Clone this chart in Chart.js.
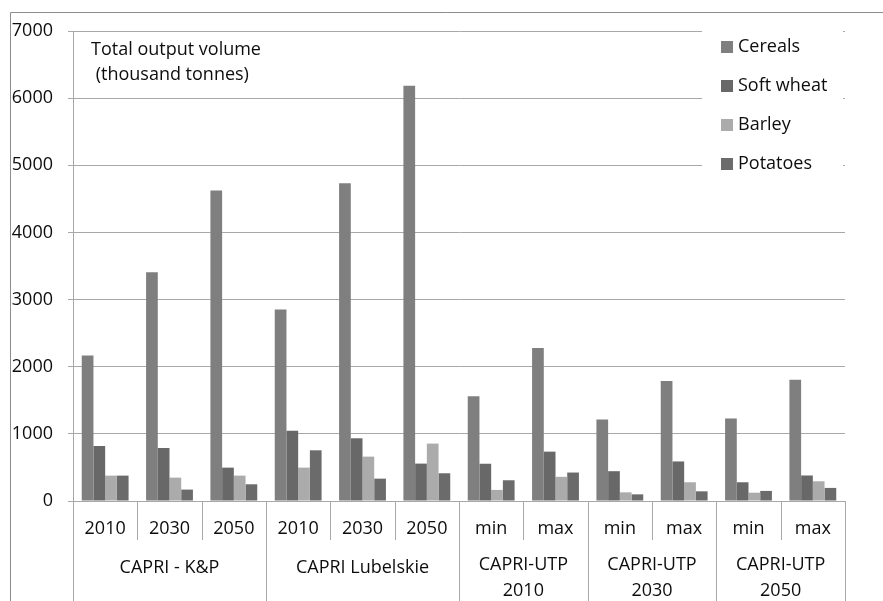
<!DOCTYPE html>
<html>
<head>
<meta charset="utf-8">
<script src="https://cdn.jsdelivr.net/npm/chart.js@4.4.1/dist/chart.umd.min.js"></script>
<style>
  html, body { margin: 0; padding: 0; background: #fff; }
</style>
</head>
<body>
<canvas id="chart" width="883" height="601"></canvas>
<script>
// categories
const subLabels = ['2010', '2030', '2050', '2010', '2030', '2050', 'min', 'max', 'min', 'max', 'min', 'max'];
const groupNames = [['CAPRI - K&P'], ['CAPRI Lubelskie'], ['CAPRI-UTP', '2010'], ['CAPRI-UTP', '2030'], ['CAPRI-UTP', '2050']];
const groupSizes = [3, 3, 2, 2, 2];

// series (thousand tonnes)
const seriesNames = ['Cereals', 'Soft wheat', 'Barley', 'Potatoes'];
const cereals   = [2168, 3407, 4626, 2851, 4734, 6186, 1559, 2279, 1214, 1789, 1229, 1804];
const softWheat = [819, 789, 497, 1048, 934, 557, 555, 735, 444, 589, 279, 380];
const barley    = [378, 348, 378, 497, 661, 855, 165, 360, 129, 279, 124, 294];
const potatoes  = [378, 170, 249, 755, 333, 413, 309, 424, 99, 144, 150, 195];

// y axis
const yMin = 0;
const yMax = 7000;
const yStep = 1000;

const noteLines = ['Total output volume', ' (thousand tonnes)'];

const FONT = '"Open Sans", sans-serif';
const FONT_SIZE = 18;
const colors = ['#7f7f7f', '#686868', '#ababab', '#6b6b6b'];
const gridColor = '#a8a8a8';
const textColor = '#0d0d0d';

const decor = {
    id: 'decor',
    beforeDraw(chart) {
        const ctx = chart.ctx;
        ctx.save();
        ctx.fillStyle = '#fff';
        ctx.fillRect(0, 0, chart.width, chart.height);
        // outer frame (top and left edges visible)
        ctx.strokeStyle = '#8c8c8c';
        ctx.lineWidth = 1;
        ctx.beginPath();
        ctx.moveTo(10.5, chart.height);
        ctx.lineTo(10.5, 12.5);
        ctx.lineTo(chart.width, 12.5);
        ctx.stroke();
        ctx.restore();
    },
    afterDraw(chart) {
        const { ctx, chartArea } = chart;
        const x = chart.scales.x;
        ctx.save();

        // category separators
        const groupEdges = new Set([0]);
        let acc = 0;
        groupSizes.forEach(n => { acc += n; groupEdges.add(acc); });
        ctx.strokeStyle = gridColor;
        ctx.lineWidth = 1;
        for (let i = 0; i <= subLabels.length; i++) {
            const px = Math.round(x.getPixelForValue(i - 0.5)) + 0.5;
            ctx.beginPath();
            ctx.moveTo(px, chartArea.bottom);
            ctx.lineTo(px, groupEdges.has(i) ? chart.height : chartArea.bottom + 39);
            ctx.stroke();
        }

        // group labels
        ctx.fillStyle = textColor;
        ctx.font = FONT_SIZE + 'px ' + FONT;
        ctx.textAlign = 'center';
        ctx.textBaseline = 'middle';
        let start = 0;
        groupNames.forEach((lines, g) => {
            const end = start + groupSizes[g];
            const cx = (x.getPixelForValue(start - 0.5) + x.getPixelForValue(end - 0.5)) / 2;
            if (lines.length === 1) {
                ctx.fillText(lines[0], cx, chartArea.bottom + 67);
            } else {
                lines.forEach((t, k) => ctx.fillText(t, cx, chartArea.bottom + 64 + k * 26));
            }
            start = end;
        });

        // note inside plot
        ctx.textAlign = 'left';
        noteLines.forEach((t, k) => ctx.fillText(t, chartArea.left + 18, 50 + k * 25));

        // legend
        ctx.fillStyle = '#fff';
        ctx.fillRect(702, 14, 141, 190);
        chart.data.datasets.forEach((ds, i) => {
            const cy = 47 + i * 39;
            ctx.fillStyle = ds.backgroundColor;
            ctx.fillRect(721, cy - 6, 12, 12);
            ctx.fillStyle = textColor;
            ctx.fillText(ds.label, 738, cy);
        });
        ctx.restore();
    }
};

const seriesData = [cereals, softWheat, barley, potatoes];

new Chart(document.getElementById('chart'), {
    type: 'bar',
    data: {
        labels: subLabels,
        datasets: seriesNames.map((name, i) => ({
            label: name,
            data: seriesData[i],
            backgroundColor: colors[i],
            borderWidth: 0,
            categoryPercentage: 0.728,
            barPercentage: 1
        }))
    },
    options: {
        responsive: false,
        animation: false,
        devicePixelRatio: 1,
        layout: { padding: { left: 10, top: 31, right: 38, bottom: 0 } },
        plugins: {
            legend: { display: false },
            tooltip: { enabled: false }
        },
        scales: {
            x: {
                grid: { display: false, drawTicks: false },
                border: { display: false },
                ticks: {
                    color: textColor,
                    font: { family: FONT, size: FONT_SIZE },
                    padding: 17,
                    maxRotation: 0,
                    autoSkip: false
                },
                afterFit(s) { s.height = 100; }
            },
            y: {
                min: yMin,
                max: yMax,
                grid: { color: gridColor, tickLength: 5 },
                border: { display: true, color: gridColor },
                ticks: {
                    stepSize: yStep,
                    color: textColor,
                    font: { family: FONT, size: FONT_SIZE },
                    padding: 15,
                    callback: v => String(v)
                },
                afterFit(s) { s.width = 63; }
            }
        }
    },
    plugins: [decor]
});
</script>
</body>
</html>
